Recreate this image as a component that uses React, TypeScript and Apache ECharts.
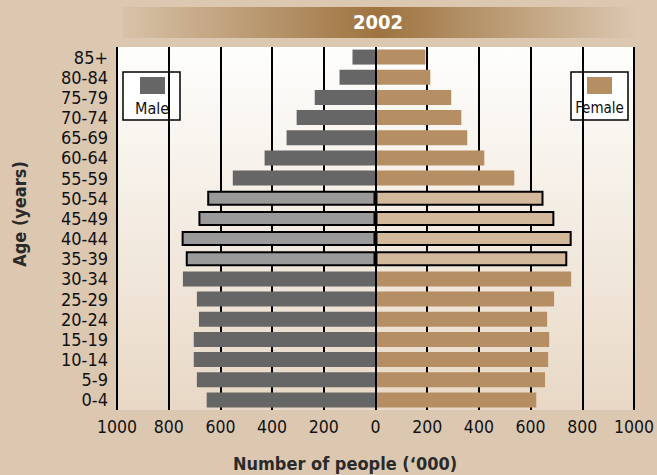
import React, { useEffect, useRef } from "react";
import * as echarts from "echarts";

const ages = ["0-4", "5-9", "10-14", "15-19", "20-24", "25-29", "30-34", "35-39", "40-44", "45-49", "50-54", "55-59", "60-64", "65-69", "70-74", "75-79", "80-84", "85+"];
const male = [653, 691, 703, 703, 683, 691, 745, 734, 750, 685, 651, 552, 429, 344, 305, 235, 139, 89];
const female = [622, 656, 668, 672, 664, 691, 757, 742, 759, 692, 650, 537, 421, 355, 332, 293, 212, 193];
const highlighted = ["35-39", "40-44", "45-49", "50-54"];
const title = "2002";
const xName = "Number of people (\u2018000)";
const yName = "Age (years)";

const FONT = "'DejaVu Sans Condensed', 'Liberation Sans Narrow', sans-serif";
const MALE = "#666666";
const MALE_HI = "#9a9a9a";
const FEMALE = "#b58e64";
const FEMALE_HI = "#d2b99c";

export default function App() {
  const ref = useRef<HTMLDivElement>(null);
  useEffect(() => {
    document.body.style.margin = "0";
    const chart = echarts.init(ref.current!, null, { renderer: "svg" });
    const mk = (vals: number[], sign: number, base: string, hi: string) =>
      vals.map((v, i) => {
        const h = highlighted.includes(ages[i]);
        return {
          value: sign * v,
          itemStyle: h
            ? { color: hi, borderColor: "#000", borderWidth: 2 }
            : { color: base, borderWidth: 0 },
        };
      });
    chart.setOption({
      animation: false,
      backgroundColor: "#dcc8b1",
      textStyle: { fontFamily: FONT },
      grid: {
        left: 117,
        right: 22,
        top: 47,
        bottom: 65,
        show: true,
        borderWidth: 0,
        backgroundColor: new echarts.graphic.LinearGradient(0, 0, 0, 1, [
          { offset: 0, color: "#fefefd" },
          { offset: 1, color: "#e8d8c5" },
        ]),
      },
      xAxis: {
        type: "value",
        min: -1000,
        max: 1000,
        interval: 200,
        axisLine: { show: false },
        axisTick: { show: false },
        splitLine: { show: true, lineStyle: { color: "#000", width: 2 } },
        axisLabel: {
          formatter: (v: number) => String(Math.abs(v)),
          color: "#111",
          fontSize: 17.5,
          fontFamily: FONT,
          margin: 8,
        },
      },
      yAxis: {
        type: "category",
        data: ages,
        axisLine: { show: false },
        axisTick: { show: false },
        splitLine: { show: false },
        axisLabel: { color: "#111", fontSize: 18, fontFamily: FONT, margin: 9, interval: 0 },
      },
      series: [
        {
          name: "Male",
          type: "bar",
          barWidth: 15,
          barGap: "-100%",
          data: mk(male, -1, MALE, MALE_HI),
          markLine: {
            silent: true,
            symbol: "none",
            label: { show: false },
            lineStyle: { color: "#000", width: 2, type: "solid" },
            data: [{ xAxis: 0 }],
          },
          z: 3,
        },
        {
          name: "Female",
          type: "bar",
          barWidth: 15,
          data: mk(female, 1, FEMALE, FEMALE_HI),
          z: 3,
        },
      ],
      graphic: [
        {
          type: "rect",
          shape: { x: 123, y: 7, width: 512, height: 31 },
          style: {
            fill: new echarts.graphic.LinearGradient(0, 0, 1, 0, [
              { offset: 0, color: "#d8c2a8" },
              { offset: 0.5, color: "#9e733f" },
              { offset: 1, color: "#dbc7b0" },
            ]),
          },
          z: 1,
        },
        {
          type: "text",
          x: 378,
          y: 22,
          style: {
            text: title,
            fill: "#ffffff",
            font: `bold 20px ${FONT}`,
            align: "center",
            verticalAlign: "middle",
          },
          z: 2,
        },
        {
          type: "text",
          x: 345,
          y: 463,
          style: {
            text: xName,
            fill: "#2a2a2a",
            font: `bold 18px ${FONT}`,
            align: "center",
            verticalAlign: "middle",
          },
        },
        {
          type: "text",
          x: 19,
          y: 214,
          rotation: Math.PI / 2,
          style: {
            text: yName,
            fill: "#2a2a2a",
            font: `bold 18px ${FONT}`,
            align: "center",
            verticalAlign: "middle",
          },
        },
        {
          type: "group",
          x: 123,
          y: 72,
          z: 10,
          children: [
            { type: "rect", shape: { x: 0, y: 0, width: 57, height: 48 }, style: { fill: "#fff", stroke: "#000", lineWidth: 1.5 } },
            { type: "rect", shape: { x: 17, y: 5, width: 25, height: 17 }, style: { fill: MALE } },
            { type: "text", x: 29, y: 36, style: { text: "Male", fill: "#111", font: `16px ${FONT}`, align: "center", verticalAlign: "middle" } },
          ],
        },
        {
          type: "group",
          x: 571,
          y: 72,
          z: 10,
          children: [
            { type: "rect", shape: { x: 0, y: 0, width: 57, height: 48 }, style: { fill: "#fff", stroke: "#000", lineWidth: 1.5 } },
            { type: "rect", shape: { x: 16, y: 5, width: 25, height: 17 }, style: { fill: FEMALE } },
            { type: "text", x: 28.5, y: 36, style: { text: "Female", fill: "#111", font: `15px ${FONT}`, align: "center", verticalAlign: "middle" } },
          ],
        },
      ],
    });
    return () => chart.dispose();
  }, []);
  return <div ref={ref} style={{ width: 657, height: 475 }} />;
}
